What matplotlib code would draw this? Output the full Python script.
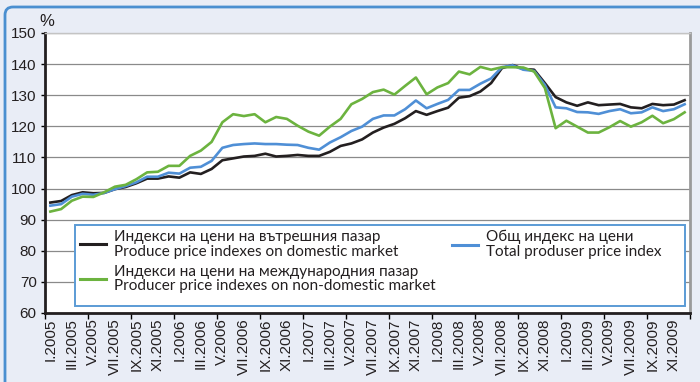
import matplotlib
matplotlib.use("Agg")
import matplotlib.pyplot as plt
import numpy as np
from matplotlib.lines import Line2D
from matplotlib.patches import FancyBboxPatch, Rectangle

YEARS = [2005, 2006, 2007, 2008, 2009]
ROMAN = ["I", "II", "III", "IV", "V", "VI", "VII", "VIII", "IX", "X", "XI", "XII"]
MONTHS = [f"{ROMAN[m]}.{y}" for y in YEARS for m in range(12)]

# monthly producer price indexes, I.2005 .. XII.2009
domestic = [95.5, 96.0, 97.9, 98.8, 98.5, 98.6, 99.8, 100.5, 101.7, 103.2,
            103.2, 103.9, 103.5, 105.2, 104.7, 106.3, 109.1, 109.7, 110.3, 110.5,
            111.2, 110.3, 110.5, 110.8, 110.5, 110.5, 111.8, 113.7, 114.5, 115.8,
            118.0, 119.6, 120.8, 122.6, 124.9, 123.7, 124.9, 126.0, 129.2, 129.7,
            131.2, 133.9, 138.7, 139.7, 138.4, 138.2, 133.9, 129.4, 127.7, 126.6,
            127.7, 126.8, 127.0, 127.2, 126.1, 125.8, 127.2, 126.8, 127.0, 128.4]
total = [94.5, 95.0, 97.4, 98.3, 98.0, 98.6, 99.8, 100.8, 102.0, 103.8,
         103.8, 105.1, 104.8, 106.7, 107.0, 108.9, 113.1, 114.0, 114.3, 114.5,
         114.3, 114.3, 114.1, 114.0, 113.1, 112.5, 114.8, 116.5, 118.5, 119.9,
         122.4, 123.5, 123.5, 125.5, 128.3, 125.8, 127.2, 128.5, 131.7, 131.7,
         133.7, 135.4, 139.0, 139.6, 138.2, 137.8, 133.3, 126.1, 125.8, 124.6,
         124.5, 124.0, 124.9, 125.5, 124.2, 124.5, 126.1, 124.9, 125.5, 127.1]
non_domestic = [92.6, 93.4, 96.1, 97.4, 97.3, 98.8, 100.6, 101.2, 103.0, 105.2,
                105.4, 107.3, 107.3, 110.5, 112.2, 115.0, 121.3, 123.9, 123.3, 123.9,
                121.3, 123.0, 122.4, 120.2, 118.3, 117.0, 119.9, 122.4, 127.1, 128.8,
                131.0, 131.8, 130.2, 133.0, 135.7, 130.3, 132.5, 133.9, 137.6, 136.7,
                139.1, 138.2, 139.0, 139.0, 138.9, 137.6, 132.3, 119.4, 121.8, 119.9,
                118.0, 118.0, 119.7, 121.7, 119.9, 121.3, 123.4, 121.0, 122.3, 124.5]

LBL_DOM = "Индекси на цени на вътрешния пазар\nProduce price indexes on domestic market"
LBL_NON = "Индекси на цени на международния пазар\nProducer price indexes on non-domestic market"
LBL_TOT = "Общ индекс на цени\nTotal produser price index"

BG = "#e9edf6"
C_DOM, C_TOT, C_NON = "#231f20", "#4f8fd6", "#6cb33f"
W, H = 700, 382

plt.rcParams["font.family"] = ["Liberation Sans", "DejaVu Sans"]

fig = plt.figure(figsize=(W / 100, H / 100), dpi=100, facecolor=BG)
ax = fig.add_axes([45 / W, 69 / H, 645 / W, 280 / H])
ax.set_facecolor("white")

x = np.arange(len(MONTHS))
ax.plot(x, domestic, color=C_DOM, lw=1.9, zorder=3)
ax.plot(x, total, color=C_TOT, lw=1.9, zorder=3)
ax.plot(x, non_domestic, color=C_NON, lw=1.9, zorder=3)

ax.set_xlim(-0.5, len(MONTHS) - 0.5)
ax.set_ylim(60, 150)
ax.set_yticks(np.arange(60, 151, 10))
ax.yaxis.grid(True, color="#8a8a8a", lw=0.9)
ax.set_axisbelow(True)

# tick marks every 4 months on the boundaries, labels every 2 months on the centres
ax.set_xticks(np.arange(-0.5, len(MONTHS), 4))
ax.set_xticklabels([])
ax.set_xticks(x[::2], minor=True)
ax.set_xticklabels(MONTHS[::2], minor=True, rotation=90, fontsize=11, color=C_DOM)
ax.tick_params(axis="x", which="major", length=4, width=1, direction="out")
ax.tick_params(axis="x", which="minor", length=0, pad=4)
ax.tick_params(axis="y", length=3, width=1, labelsize=11, labelcolor=C_DOM, pad=3)

for side, col, lw in [("left", C_DOM, 2), ("bottom", C_DOM, 2),
                      ("right", "#9a9a9a", 2), ("top", "#c4c4c4", 1)]:
    ax.spines[side].set_color(col)
    ax.spines[side].set_linewidth(lw)

fig.text(47 / W, 1 - 22 / H, "%", ha="center", va="center", fontsize=12, color=C_DOM)

# legend box
ax.add_patch(Rectangle((75 / W, 1 - 306 / H), 610 / W, 81 / H, transform=fig.transFigure,
                       facecolor="white", edgecolor="#5b9bd5", lw=1.4, zorder=4, clip_on=False))
leg_kw = dict(frameon=False, loc="upper left", bbox_transform=fig.transFigure,
              borderpad=0, borderaxespad=0, handlelength=1.7, handletextpad=0.55,
              labelspacing=0.4, prop={"family": ["Lato", "DejaVu Sans"], "size": 11},
              labelcolor=C_DOM)
leg1 = ax.legend([Line2D([], [], color=C_DOM, lw=2.2), Line2D([], [], color=C_NON, lw=2.2)],
                 [LBL_DOM, LBL_NON], bbox_to_anchor=(80 / W, 1 - 230 / H), **leg_kw)
ax.add_artist(leg1)
leg2 = ax.legend([Line2D([], [], color=C_TOT, lw=2.2)], [LBL_TOT],
                 bbox_to_anchor=(452 / W, 1 - 230 / H), **leg_kw)
for leg in (leg1, leg2):
    leg.set_zorder(5)
    for t in leg.get_texts():
        t.set_linespacing(1.05)

# rounded blue frame round the whole chart
fig.add_artist(FancyBboxPatch((0.05, -0.5), 7.5, 3.75 + 0.5,
                              boxstyle="round,pad=0,rounding_size=0.08",
                              transform=fig.dpi_scale_trans, facecolor="none",
                              edgecolor="#4a8fd0", lw=2))

fig.savefig("out.png", dpi=100, facecolor=BG)
